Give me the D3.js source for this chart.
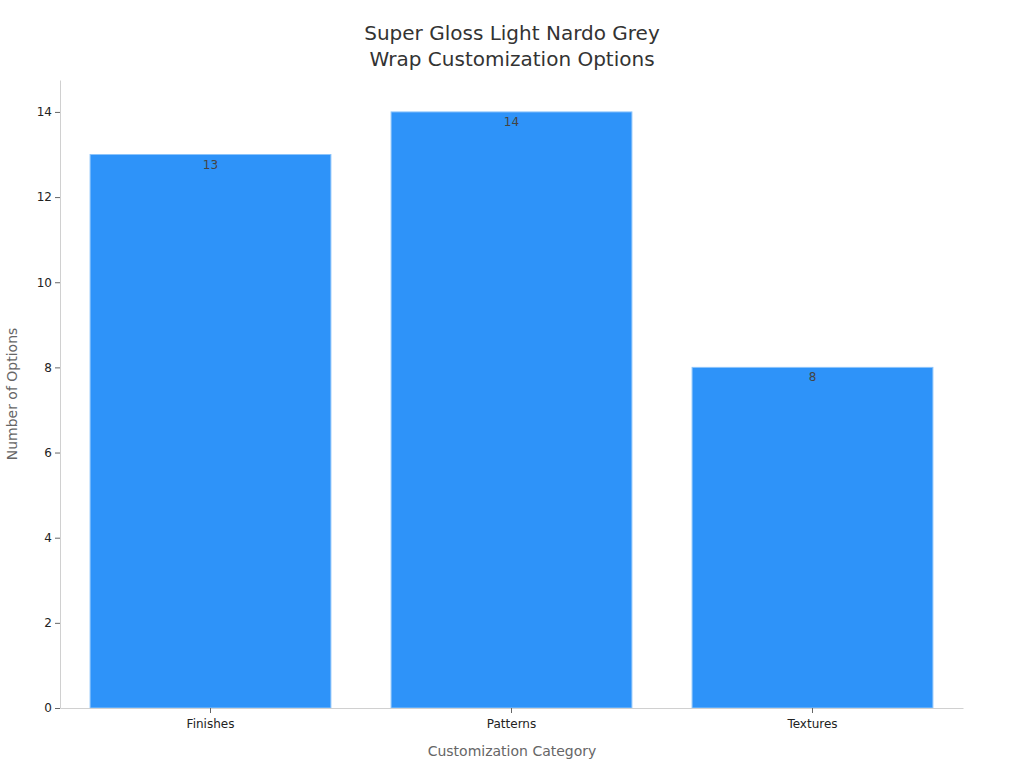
<!DOCTYPE html>
<html><head><meta charset="utf-8">
<script src="https://cdn.jsdelivr.net/npm/d3@7"></script>
<style>body{margin:0;background:#fff;} text{font-family:"DejaVu Sans",sans-serif;}</style>
</head><body>
<svg id="c" width="1024" height="768"></svg>
<script>
const categories = ["Finishes", "Patterns", "Textures"];
const values = [13, 14, 8];
const yTicks = [0, 2, 4, 6, 8, 10, 12, 14];
const titleLines = ["Super Gloss Light Nardo Grey", "Wrap Customization Options"];
const xTitle = "Customization Category";
const yTitle = "Number of Options";

const svg = d3.select("#c");
const m = {l: 60, r: 963, t: 80, b: 708};
const x = d3.scaleBand().domain(categories).range([m.l, m.r]).paddingInner(0.2).paddingOuter(0.1);
const y = d3.scaleLinear().domain([0, 14.75]).range([m.b, m.t]);

svg.selectAll("rect.bar").data(values).join("rect").attr("class","bar")
  .attr("x", (d,i)=>x(categories[i])).attr("width", x.bandwidth())
  .attr("y", d=>y(d)).attr("height", d=>y(0)-y(d))
  .attr("fill", "#2E93F9").attr("stroke", "#8cc4fb").attr("stroke-width", 1);

svg.selectAll("text.val").data(values).join("text").attr("class","val")
  .attr("x", (d,i)=>x(categories[i])+x.bandwidth()/2).attr("y", d=>y(d)+14)
  .attr("text-anchor","middle").attr("font-size",12).attr("fill","#444").text(d=>d);

const yAxis = svg.append("g").attr("transform",`translate(${m.l},0)`)
  .call(d3.axisLeft(y).tickValues(yTicks).tickSize(5).tickSizeOuter(0));
yAxis.select(".domain").attr("stroke","#d0d0d0");
yAxis.selectAll(".tick line").attr("stroke","#666");
yAxis.selectAll(".tick text").attr("font-size",12).attr("fill","#222").attr("font-family","DejaVu Sans");

const xAxis = svg.append("g").attr("transform",`translate(0,${m.b})`)
  .call(d3.axisBottom(x).tickSize(5).tickSizeOuter(0));
xAxis.select(".domain").attr("stroke","#d0d0d0");
xAxis.selectAll(".tick line").attr("stroke","#666");
xAxis.selectAll(".tick text").attr("font-size",12).attr("fill","#222").attr("font-family","DejaVu Sans").attr("dy","1em");

svg.append("text").attr("x",512).attr("y",756).attr("text-anchor","middle")
  .attr("font-size",14).attr("fill","#666").text(xTitle);
svg.append("text").attr("transform","translate(17,394) rotate(-90)").attr("text-anchor","middle")
  .attr("font-size",14).attr("fill","#666").text(yTitle);

svg.selectAll("text.title").data(titleLines).join("text").attr("class","title")
  .attr("x",512).attr("y",(d,i)=>40+i*26).attr("text-anchor","middle")
  .attr("font-size",20).attr("fill","#333").text(d=>d);
</script>
</body></html>
